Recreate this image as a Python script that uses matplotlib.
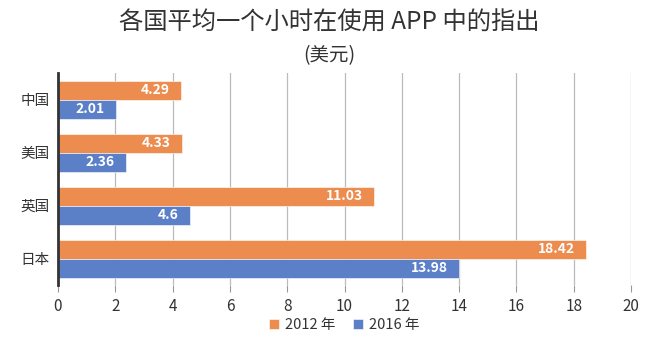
import matplotlib
matplotlib.use("Agg")
import matplotlib.pyplot as plt
import numpy as np

plt.rcParams["font.family"] = ["Noto Sans CJK SC", "DejaVu Sans"]

# ── Data ──────────────────────────────────────────────────────────────────────
countries = ["中国", "美国", "英国", "日本"]
spend_2012 = [4.29, 4.33, 11.03, 18.42]
spend_2016 = [2.01, 2.36, 4.6, 13.98]
label_2012 = ["4.29", "4.33", "11.03", "18.42"]
label_2016 = ["2.01", "2.36", "4.6", "13.98"]
series_names = ["2012 年", "2016 年"]

COLOR_2012 = "#EC8C4F"
COLOR_2016 = "#5B80C8"
TEXT = "#333333"

fig = plt.figure(figsize=(6.58, 3.52), dpi=100)
ax = fig.add_axes([0.0881, 0.190, 0.871, 0.602])

y = np.arange(len(countries))
h = 0.36
ax.barh(y - h / 2, spend_2012, height=h, color=COLOR_2012,
        edgecolor="white", linewidth=0.4, label=series_names[0], zorder=2)
ax.barh(y + h / 2, spend_2016, height=h, color=COLOR_2016,
        edgecolor="white", linewidth=0.4, label=series_names[1], zorder=2)

# value labels, right-aligned inside the bar end
for offset, vals, labels in ((-h / 2, spend_2012, label_2012),
                             (h / 2, spend_2016, label_2016)):
    for yi, v, s in zip(y, vals, labels):
        ax.annotate(s, (v, yi + offset), xytext=(-8, 0),
                    textcoords="offset points", ha="right", va="center",
                    color="white", fontsize=10, fontweight="semibold",
                    zorder=4)

ax.set_ylim(len(countries) - 0.5, -0.5)
ax.set_xlim(0, 20)
ax.set_xticks(range(0, 21, 2))
ax.set_yticks(y)
ax.set_yticklabels(countries)
ax.tick_params(axis="x", length=5, color="#999999", labelsize=11,
               labelcolor=TEXT, pad=4)
ax.tick_params(axis="y", length=0, labelsize=10.5, labelcolor=TEXT, pad=6)
ax.grid(axis="x", color="#BBBBBB", lw=0.9, zorder=0)

for side in ("top", "right", "bottom"):
    ax.spines[side].set_visible(False)
ax.spines["left"].set_color("#333333")
ax.spines["left"].set_linewidth(2)
ax.spines["left"].set_zorder(3)

fig.text(0.5, 0.935, "各国平均一个小时在使用 APP 中的指出", ha="center",
         va="center", fontsize=17.5, color=TEXT)
fig.text(0.5, 0.843, "(美元)", ha="center", va="center", fontsize=14,
         color=TEXT)

ax.legend(loc="center", bbox_to_anchor=(0.5, -0.19), ncol=2, frameon=False,
          fontsize=10.5, handlelength=0.7, handleheight=0.7, handletextpad=0.4,
          columnspacing=1.2, labelcolor=TEXT)

fig.savefig("out.png", dpi=100)
